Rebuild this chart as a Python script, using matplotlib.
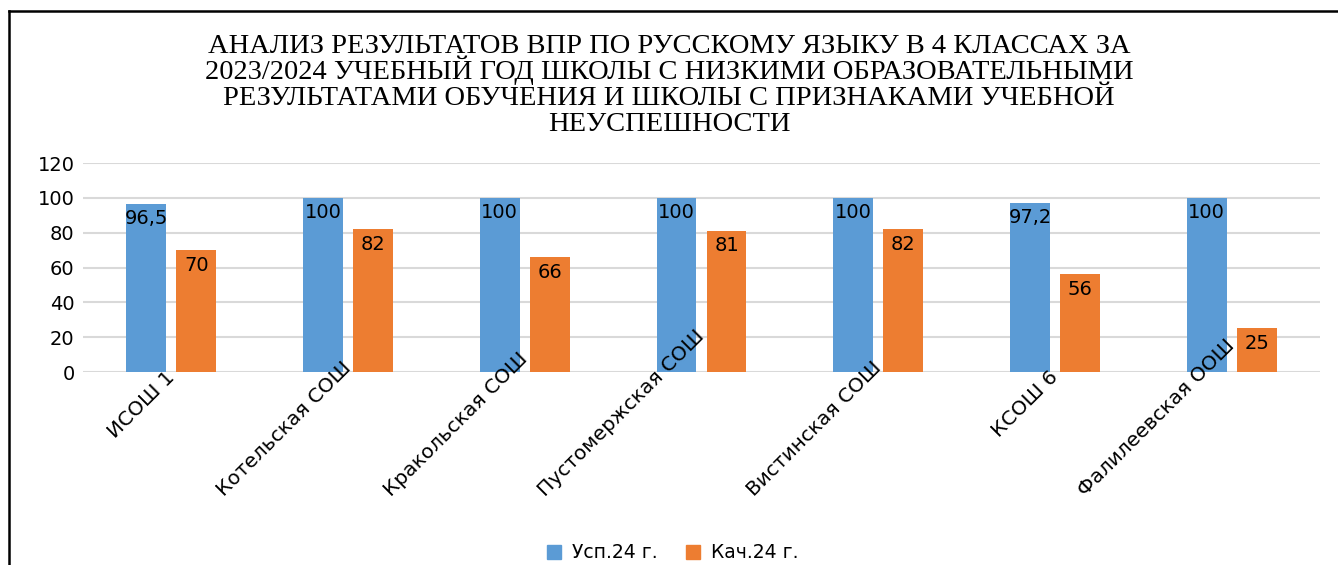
import matplotlib
matplotlib.use("Agg")
import matplotlib.pyplot as plt
from matplotlib.lines import Line2D
from matplotlib.patches import Patch
from matplotlib.transforms import ScaledTranslation
import numpy as np

categories = ["ИСОШ 1", "Котельская СОШ", "Кракольская СОШ", "Пустомержская СОШ",
              "Вистинская СОШ", "КСОШ 6", "Фалилеевская ООШ"]
usp = [96.5, 100, 100, 100, 100, 97.2, 100]
kach = [70, 82, 66, 81, 82, 56, 25]
series_names = ["Усп.24 г.", "Кач.24 г."]
title_lines = ["АНАЛИЗ РЕЗУЛЬТАТОВ ВПР ПО РУССКОМУ ЯЗЫКУ В 4 КЛАССАХ ЗА",
               "2023/2024 УЧЕБНЫЙ ГОД ШКОЛЫ С НИЗКИМИ ОБРАЗОВАТЕЛЬНЫМИ",
               "РЕЗУЛЬТАТАМИ ОБУЧЕНИЯ И ШКОЛЫ С ПРИЗНАКАМИ УЧЕБНОЙ",
               "НЕУСПЕШНОСТИ"]
yticks = [0, 20, 40, 60, 80, 100, 120]

BLUE = "#5B9BD5"
ORANGE = "#ED7D31"
GRID = "#D9D9D9"
FONT = "DejaVu Sans"

W, H = 1338, 565
fig = plt.figure(figsize=(W / 100, H / 100), dpi=100)
ax = fig.add_axes([83 / W, 1 - 372 / H, (1320 - 83) / W, (372 - 163) / H])

x = np.arange(len(categories))
bw = 0.226
off = 0.1415
b1 = ax.bar(x - off, usp, bw, color=BLUE, zorder=3)
b2 = ax.bar(x + off, kach, bw, color=ORANGE, zorder=3)

def fmt(v):
    return ("%g" % v).replace(".", ",")

for bars, vals in ((b1, usp), (b2, kach)):
    for r, v in zip(bars, vals):
        ax.annotate(fmt(v), (r.get_x() + r.get_width() / 2, r.get_height()),
                    xytext=(0, -4), textcoords="offset points",
                    ha="center", va="top", fontsize=14, family=FONT,
                    color="black", zorder=4)

ax.set_xlim(-0.5, len(categories) - 0.5)
ax.set_ylim(0, 120)
ax.set_yticks(yticks)
ax.set_yticklabels([str(t) for t in yticks], fontsize=14, family=FONT)
ax.tick_params(axis="y", length=0, pad=6)
ax.set_xticks([])
for s in ax.spines.values():
    s.set_visible(False)
ax.yaxis.grid(True, color=GRID, linewidth=1.5, zorder=0)
ax.set_axisbelow(True)

# category labels, rotated 45 degrees, shifted up when too long
trans = ax.get_xaxis_transform()
texts = []
for i, c in enumerate(categories):
    t = ax.text(x[i], -0.01, c, transform=trans, rotation=45,
                rotation_mode="anchor", ha="right", va="center",
                fontsize=14.5, family=FONT, color="black", zorder=5)
    texts.append(t)
fig.canvas.draw()
r = fig.canvas.get_renderer()
limit = H - 500  # bottom limit in display pixels
for t in texts:
    bb = t.get_window_extent(r)
    if bb.y0 < limit:
        dy = (limit - bb.y0) / 100.0
        t.set_transform(trans + ScaledTranslation(0, dy, fig.dpi_scale_trans))

# title, one line at a time on evenly spaced baselines
for k, line in enumerate(title_lines):
    fig.text(0.5, 1 - (53 + 26 * k) / H, line, ha="center", va="baseline",
             fontsize=20.5, family="Liberation Serif")

handles = [Patch(color=BLUE), Patch(color=ORANGE)]
fig.legend(handles, series_names, loc="center", bbox_to_anchor=(0.503, 1 - 553 / H),
           ncol=2, frameon=False, prop={"family": FONT, "size": 13.5},
           handlelength=0.75, handleheight=0.75, columnspacing=1.5, handletextpad=0.6)

# outer frame (left and top)
fig.add_artist(Line2D([8.5 / W, 8.5 / W], [0, 1 - 10.5 / H], color="black",
                      linewidth=1.8, transform=fig.transFigure))
fig.add_artist(Line2D([8.5 / W, 1], [1 - 10.5 / H, 1 - 10.5 / H], color="black",
                      linewidth=1.8, transform=fig.transFigure))

fig.savefig("out.png", dpi=100, facecolor="white")
